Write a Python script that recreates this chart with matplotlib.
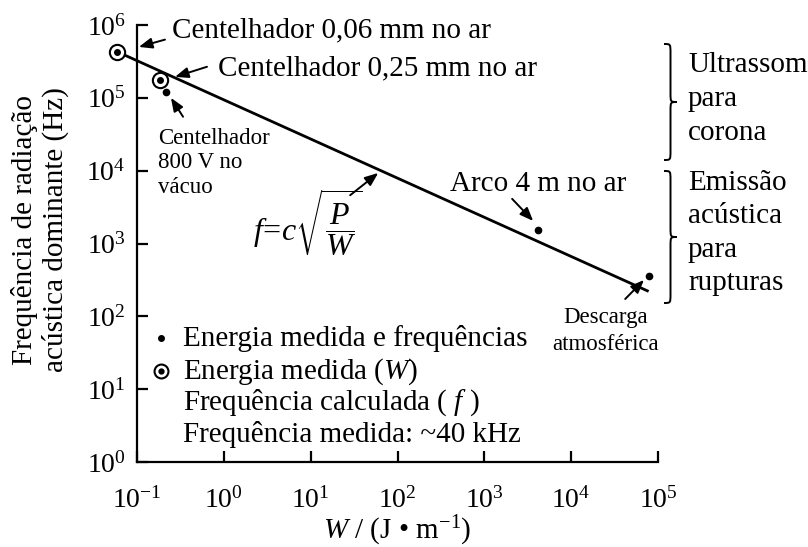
import math
import matplotlib
matplotlib.use("Agg")
import matplotlib.pyplot as plt
from matplotlib.path import Path
from matplotlib.patches import PathPatch
from matplotlib.ticker import FixedLocator, FuncFormatter, NullLocator

plt.rcParams['font.family'] = ['Liberation Serif', 'DejaVu Serif']
plt.rcParams['mathtext.fontset'] = 'custom'
plt.rcParams['mathtext.rm'] = 'Liberation Serif'
plt.rcParams['mathtext.it'] = 'Liberation Serif:italic'

# medições (W em J/m, f em Hz)
gap_006_w, gap_006_f = 0.059, 4.3e5
gap_025_w, gap_025_f = 0.184, 1.77e5
vac_w, vac_f = 0.216, 1.2e5
arco_w, arco_f = 4100, 1540
raio_w, raio_f = 7.8e4, 360

# reta f = c*sqrt(P/W)
line_w = [0.059, 7.8e4]
line_f = [4.3e5, 2.2e2]

x_decades = [-1, 0, 1, 2, 3, 4, 5]
y_decades = [0, 1, 2, 3, 4, 5, 6]

W, H = 808, 547


def px(x, y):
    # pixels (origem no canto superior esquerdo) -> fração da figura
    return x / W, 1 - y / H


fig = plt.figure(figsize=(W / 100, H / 100), dpi=100)
ax = fig.add_axes([137 / W, 1 - 462 / H, 521 / W, 437 / H])
ax.set_xscale('log')
ax.set_yscale('log')
ax.set_xlim(10.0 ** x_decades[0], 10.0 ** x_decades[-1])
ax.set_ylim(10.0 ** y_decades[0], 10.0 ** y_decades[-1])

for s in ['top', 'right']:
    ax.spines[s].set_visible(False)
for s in ['left', 'bottom']:
    ax.spines[s].set_linewidth(1.6)

ax.xaxis.set_major_locator(FixedLocator([10.0 ** d for d in x_decades]))
ax.yaxis.set_major_locator(FixedLocator([10.0 ** d for d in y_decades]))
ax.xaxis.set_minor_locator(NullLocator())
ax.yaxis.set_minor_locator(NullLocator())
fmt = FuncFormatter(lambda v, p: r'$\mathregular{10^{%d}}$' % round(math.log10(v)))
ax.xaxis.set_major_formatter(fmt)
ax.yaxis.set_major_formatter(fmt)
ax.tick_params(direction='in', length=8, width=1.6, labelsize=20)
ax.tick_params(axis='x', pad=18)
ax.tick_params(axis='y', pad=8)

# reta e pontos
ax.plot(line_w, line_f, color='black', lw=2, clip_on=False, solid_capstyle='butt')
for w_, f_ in [(gap_006_w, gap_006_f), (gap_025_w, gap_025_f)]:
    ax.plot(w_, f_, 'o', mfc='white', mec='black', mew=1.5, ms=11, clip_on=False, zorder=4)
    ax.plot(w_, f_, 'o', color='black', ms=4, clip_on=False, zorder=5)
for w_, f_ in [(vac_w, vac_f), (arco_w, arco_f), (raio_w, raio_f)]:
    ax.plot(w_, f_, 'o', color='black', ms=4.5, clip_on=False, zorder=5)

arrow = dict(arrowstyle='-|>,head_length=0.8,head_width=0.32', color='black', lw=1.4,
             shrinkA=0, shrinkB=0)


def seta(head, tail):
    ax.annotate('', xy=head, xytext=tail, arrowprops=arrow, annotation_clip=False)


seta((0.105, 5.0e5), (0.21, 6.3e5))
seta((0.274, 1.94e5), (0.64, 2.67e5))
seta((0.246, 1.0e5), (0.339, 5.5e4))
seta((60, 9.3e3), (28.5, 4.6e3))
seta((3650, 2.04e3), (2090, 4.1e3))
seta((6.9e4, 316), (4.19e4, 173))

big = 21
small = 16.5
fig.text(*px(172, 30), 'Centelhador 0,06 mm no ar', fontsize=big, va='center')
fig.text(*px(218, 68), 'Centelhador 0,25 mm no ar', fontsize=big, va='center')
fig.text(*px(158, 163), 'Centelhador\n800 V no\nvácuo', fontsize=small, va='center',
         linespacing=1.22)
fig.text(*px(308, 223), r'$f\!=\!c\sqrt{\dfrac{P}{W}}$', fontsize=23, ha='center', va='center')
fig.text(*px(538, 184), 'Arco 4 m no ar', fontsize=big, ha='center', va='center')
fig.text(*px(606, 331), 'Descarga\natmosférica', fontsize=small, ha='center', va='center',
         linespacing=1.38)

# chaves à direita
def chave(x0, yt, yb, w=13, r=9):
    ym = (yt + yb) / 2
    xm = x0 + w / 2
    xc = x0 + w
    pts = [(x0, yt), (xm, yt), (xm, yt), (xm, yt + r),
           (xm, ym - r), (xm, ym), (xm, ym), (xc, ym),
           (xm, ym), (xm, ym), (xm, ym + r),
           (xm, yb - r), (xm, yb), (xm, yb), (x0, yb)]
    codes = [Path.MOVETO, Path.CURVE4, Path.CURVE4, Path.CURVE4,
             Path.LINETO, Path.CURVE4, Path.CURVE4, Path.CURVE4,
             Path.CURVE4, Path.CURVE4, Path.CURVE4,
             Path.LINETO, Path.CURVE4, Path.CURVE4, Path.CURVE4]
    verts = [px(x, y) for x, y in pts]
    fig.add_artist(PathPatch(Path(verts, codes), fill=False, lw=1.4, color='black',
                             transform=fig.transFigure))


chave(664, 44, 160)
chave(664, 171, 303)
fig.text(*px(688, 99), 'Ultrassom\npara\ncorona', fontsize=big, va='center', linespacing=1.38)
fig.text(*px(688, 233), 'Emissão\nacústica\npara\nrupturas', fontsize=big, va='center',
         linespacing=1.36)

# legenda
fig.lines.append(plt.Line2D(*zip(px(161, 338)), marker='o', color='black', ms=4,
                            transform=fig.transFigure))
fig.lines.append(plt.Line2D(*zip(px(161, 371)), marker='o', mfc='white', mec='black', mew=1.5,
                            ms=10, transform=fig.transFigure))
fig.lines.append(plt.Line2D(*zip(px(161, 371)), marker='o', color='black', ms=3.5,
                            transform=fig.transFigure))
fig.text(*px(183, 338), 'Energia medida e frequências', fontsize=big, va='center')
fig.text(*px(183, 372), r'Energia medida ($W$)', fontsize=big, va='center')
fig.text(*px(183, 403), r'Frequência calculada ( $f$ )', fontsize=big, va='center')
fig.text(*px(183, 434), 'Frequência medida: ~40 kHz', fontsize=big, va='center')

ax.set_xlabel(r'$W$ / (J • m$^{-1}$)', fontsize=big, labelpad=0)
fig.text(*px(40, 230), 'Frequência de radiação\nacústica dominante (Hz)', fontsize=big,
         rotation=90, ha='center', va='center', linespacing=1.18)

fig.savefig('out.png', dpi=100)
